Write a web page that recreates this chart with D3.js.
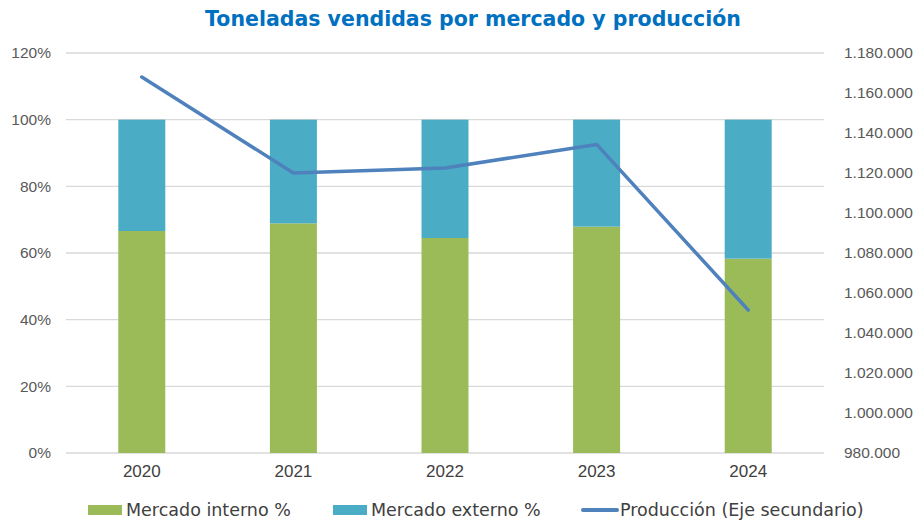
<!DOCTYPE html>
<html>
<head>
<meta charset="utf-8">
<script src="https://cdn.jsdelivr.net/npm/d3@7"></script>
<style>
  body { margin: 0; background: #fff; }
  svg { display: block; }
</style>
</head>
<body>
<div id="chart"></div>
<script>
var years = ["2020", "2021", "2022", "2023", "2024"];
var interno = [0.666, 0.689, 0.645, 0.679, 0.583];
var externo = interno.map(function(v) { return 1 - v; });
var produccion = [1168000, 1120000, 1122500, 1134300, 1051500];
var leftTicks = [0, 0.2, 0.4, 0.6, 0.8, 1.0, 1.2];
var rightTicks = d3.range(980000, 1180001, 20000);

var W = 920, H = 521;
var m = { left: 66, right: 96, top: 53, bottom: 68 };
var pw = W - m.left - m.right, ph = H - m.top - m.bottom;

var svg = d3.select("#chart").append("svg").attr("width", W).attr("height", H);

svg.append("text")
    .attr("x", 473).attr("y", 26)
    .attr("text-anchor", "middle")
    .style("font-family", "DejaVu Sans")
    .style("font-weight", "bold")
    .style("font-size", "20.5px")
    .attr("fill", "#0070C0")
    .text("Toneladas vendidas por mercado y producción");

var g = svg.append("g").attr("transform", "translate(" + m.left + "," + m.top + ")");

var x = d3.scaleBand().domain(years).range([0, pw]).paddingInner(0.69).paddingOuter(0.345);
var y = d3.scaleLinear().domain([0, 1.2]).range([ph, 0]);
var y2 = d3.scaleLinear().domain([980000, 1180000]).range([ph, 0]);

// grid
g.selectAll(".grid").data(leftTicks).enter().append("line")
    .attr("x1", 0).attr("x2", pw)
    .attr("y1", function(d) { return y(d); }).attr("y2", function(d) { return y(d); })
    .attr("stroke", "#d9d9d9").attr("stroke-width", 1.3);

var fmtPct = d3.format(".0%");
var fmtNum = function(d) { return d3.format(",")(d).replace(/,/g, "."); };

var yAxis = g.append("g").call(d3.axisLeft(y).tickValues(leftTicks).tickFormat(fmtPct).tickSize(0).tickPadding(15));
var yAxis2 = g.append("g").attr("transform", "translate(" + pw + ",0)")
    .call(d3.axisRight(y2).tickValues(rightTicks).tickFormat(fmtNum).tickSize(0).tickPadding(20));
var xAxis = g.append("g").attr("transform", "translate(0," + ph + ")")
    .call(d3.axisBottom(x).tickSize(0).tickPadding(12));

[yAxis, yAxis2].forEach(function(a) {
    a.select(".domain").remove();
    a.selectAll("text")
        .style("font-family", "Liberation Sans")
        .style("font-size", "15.5px")
        .attr("fill", "#595959");
});
xAxis.select(".domain").remove();
xAxis.selectAll("text")
    .style("font-family", "Liberation Sans")
    .style("font-size", "17px")
    .attr("fill", "#404040");

// stacked bars
g.selectAll(".bi").data(years).enter().append("rect")
    .attr("x", function(d) { return x(d); })
    .attr("width", x.bandwidth())
    .attr("y", function(d, i) { return y(interno[i]); })
    .attr("height", function(d, i) { return ph - y(interno[i]); })
    .attr("fill", "#9BBB59");
g.selectAll(".be").data(years).enter().append("rect")
    .attr("x", function(d) { return x(d); })
    .attr("width", x.bandwidth())
    .attr("y", function(d, i) { return y(interno[i] + externo[i]); })
    .attr("height", function(d, i) { return y(interno[i]) - y(interno[i] + externo[i]); })
    .attr("fill", "#4BACC6");

// line
var line = d3.line()
    .x(function(d, i) { return x(years[i]) + x.bandwidth() / 2; })
    .y(function(d) { return y2(d); });
g.append("path").datum(produccion)
    .attr("d", line)
    .attr("fill", "none")
    .attr("stroke", "#4F81BD")
    .attr("stroke-width", 3.5)
    .attr("stroke-linejoin", "round")
    .attr("stroke-linecap", "round");

// legend
var legend = [
    { label: "Mercado interno %", color: "#9BBB59", type: "rect", x: 88 },
    { label: "Mercado externo %", color: "#4BACC6", type: "rect", x: 333 },
    { label: "Producción (Eje secundario)", color: "#4F81BD", type: "line", x: 582 }
];
var lg = svg.selectAll(".lg").data(legend).enter().append("g")
    .attr("transform", function(d) { return "translate(" + d.x + ",510)"; });
lg.each(function(d) {
    var s = d3.select(this);
    if (d.type === "rect") {
        s.append("rect").attr("x", 0).attr("y", -5).attr("width", 34).attr("height", 10).attr("fill", d.color);
    } else {
        s.append("line").attr("x1", 1).attr("x2", 35).attr("y1", 0).attr("y2", 0)
            .attr("stroke", d.color).attr("stroke-width", 4).attr("stroke-linecap", "round");
    }
    s.append("text").attr("x", 38).attr("y", 6)
        .style("font-family", "DejaVu Sans")
        .style("font-size", "17.5px")
        .attr("fill", "#404040")
        .text(d.label);
});
</script>
</body>
</html>
